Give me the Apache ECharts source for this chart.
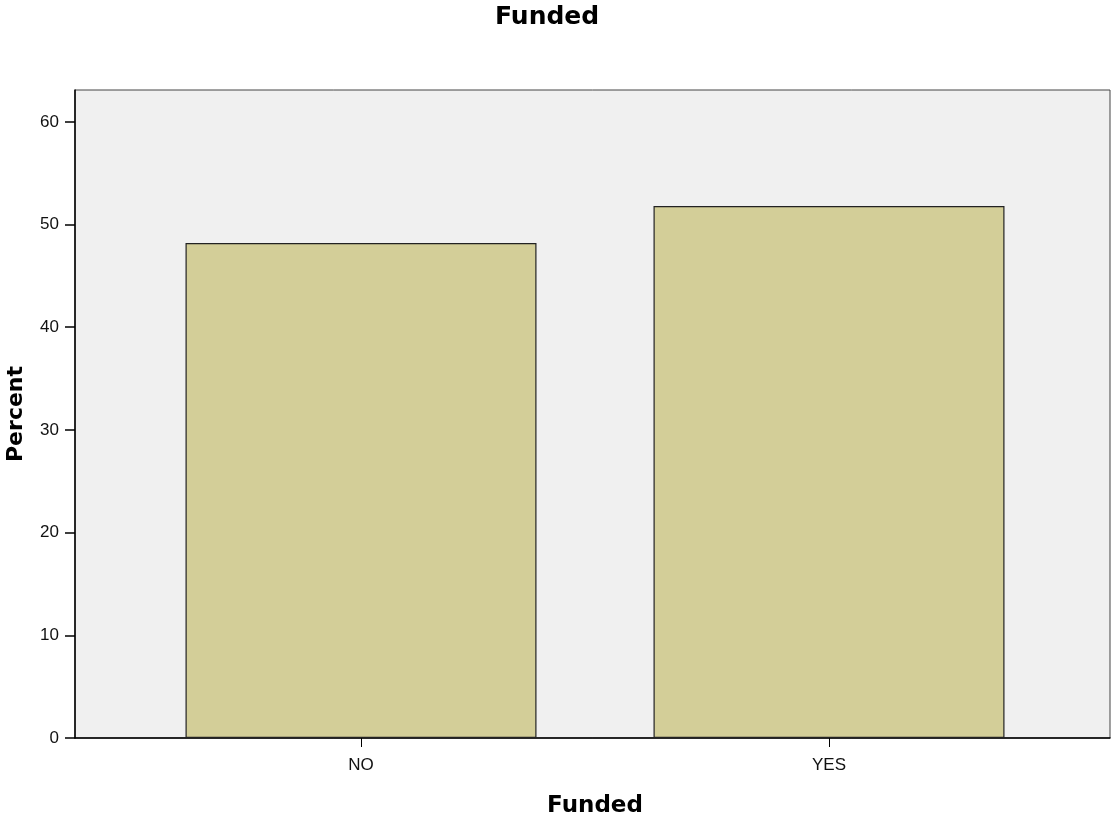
<!DOCTYPE html>
<html>
<head>
<meta charset="utf-8">
<script src="https://cdn.jsdelivr.net/npm/echarts@6/dist/echarts.min.js"></script>
<style>html,body{margin:0;padding:0;background:#fff}#c{width:1114px;height:825px}</style>
</head>
<body>
<div id="c"></div>
<script>
const chartTitle = 'Funded';
const xAxisName = 'Funded';
const yAxisName = 'Percent';
const categories = ['NO', 'YES'];
const percents = [48.2, 51.8];
const yTicks = [0, 10, 20, 30, 40, 50, 60];
const yMax = 63.1;

const chart = echarts.init(document.getElementById('c'), null, {renderer: 'canvas'});
const boldFont = 'DejaVu Sans';
const tickFont = 'Liberation Sans';
chart.setOption({
  animation: false,
  backgroundColor: '#ffffff',
  title: {
    text: chartTitle,
    left: 490, top: 0,
    textStyle: {fontFamily: boldFont, fontWeight: 'bold', fontSize: 25, color: '#000'}
  },
  grid: [
    {left: 75, top: 90, right: 4, bottom: 87, outerBoundsMode: 'none', containLabel: false,
     show: true, backgroundColor: '#f0f0f0', borderColor: '#444', borderWidth: 1},
    {left: 127, top: 90, width: 936, bottom: 87, outerBoundsMode: 'none', containLabel: false}
  ],
  xAxis: [
    {gridIndex: 0, type: 'value', min: 0, max: 1, axisLine: {show: true, onZero: false, lineStyle: {color: '#000', width: 1.5}},
     axisTick: {show: false}, axisLabel: {show: false}, splitLine: {show: false}},
    {gridIndex: 1, type: 'category', data: categories, boundaryGap: true,
     axisLine: {show: false},
     axisTick: {show: true, alignWithLabel: true, length: 9, lineStyle: {color: '#000'}},
     axisLabel: {margin: 19, fontFamily: tickFont, fontSize: 17, color: '#111'},
     name: xAxisName, nameLocation: 'middle', nameGap: 57,
     nameTextStyle: {fontFamily: boldFont, fontWeight: 'bold', fontSize: 23, color: '#000'}}
  ],
  yAxis: [
    {gridIndex: 0, type: 'value', min: 0, max: yMax, interval: 10,
     axisLine: {show: true, lineStyle: {color: '#000', width: 1.5}},
     axisTick: {show: true, length: 10, customValues: yTicks, lineStyle: {color: '#000', width: 1.5}},
     axisLabel: {margin: 16, customValues: yTicks, fontFamily: tickFont, fontSize: 17, color: '#111'},
     splitLine: {show: false},
     name: yAxisName, nameLocation: 'middle', nameGap: 48, nameRotate: 90,
     nameTextStyle: {fontFamily: boldFont, fontWeight: 'bold', fontSize: 22, color: '#000'}},
    {gridIndex: 1, type: 'value', min: 0, max: yMax, show: false, splitLine: {show: false}}
  ],
  series: [{
    type: 'bar', xAxisIndex: 1, yAxisIndex: 1, data: percents,
    barCategoryGap: '25%',
    itemStyle: {color: '#d3ce98', borderColor: '#222', borderWidth: 1.2}
  }]
});
</script>
</body>
</html>
